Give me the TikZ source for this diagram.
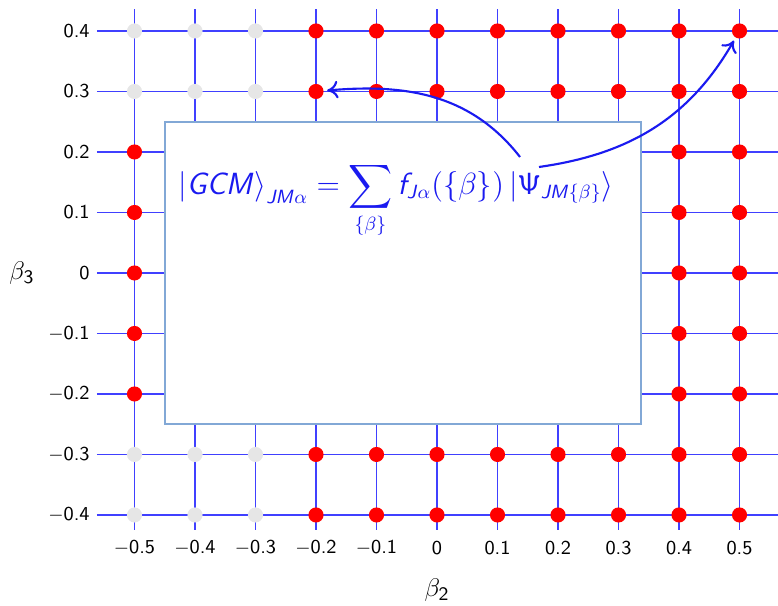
\documentclass[tikz,border=0pt]{standalone}
\usepackage{amsmath}
\usetikzlibrary{arrows.meta, calc}
\definecolor{GridBlue}{HTML}{4040FF}
\definecolor{BoxEdge}{HTML}{82A8D6}
\definecolor{DotOff}{HTML}{E6E6E6}
\definecolor{FormBlue}{HTML}{1A1AF0}
\DeclareMathAlphabet{\mathsfit}{OT1}{cmss}{m}{sl}
\tikzset{
  gridline/.style={draw=GridBlue, line width=0.8pt},
  dot/.style={circle, inner sep=0pt, minimum size=0.25cm, fill=red},
  dotoff/.style={dot, fill=DotOff},
  ticklabel/.style={font=\fontsize{9.3}{11}\selectfont\sffamily, inner sep=0pt},
  axislabel/.style={font=\fontsize{12.5}{15}\selectfont},
  panel/.style={draw=BoxEdge, fill=white, line width=0.6pt, inner sep=0pt},
  link/.style={-{To[length=1.8mm, width=2.9mm]}, draw=FormBlue, line width=1pt, shorten >=1.5pt},
}

\begin{document}
\begin{tikzpicture}
  \useasboundingbox (-7.223,-5.488) rectangle (5.636,4.512);
  % grid
  \foreach \x in {-5,...,5}
    \draw[gridline] (\x,-4.248) -- (\x,4.364);
  \foreach \y in {-4,...,4}
    \draw[gridline] (-5.62,\y) -- (5.636,\y);
  % mesh points (the ones under the panel are left out)
  \foreach \i in {0,...,10}{
    \foreach \j in {0,...,8}{
      \pgfmathtruncatemacro{\hid}{(\i>0)&&(\i<9)&&(\j>1)&&(\j<7)}
      \pgfmathtruncatemacro{\off}{(\i<3)&&((\j<2)||(\j>6))}
      \ifnum\hid=0
        \ifnum\off=1
          \node[dotoff] (d-\i-\j) at (\i-5,\j-4) {};
        \else
          \node[dot] (d-\i-\j) at (\i-5,\j-4) {};
        \fi
      \fi
    }
  }
  % tick labels
  \foreach \x/\t in {-5/$-$0.5, -4/$-$0.4, -3/$-$0.3, -2/$-$0.2, -1/$-$0.1,
                     0/0, 1/0.1, 2/0.2, 3/0.3, 4/0.4, 5/0.5}
    \node[ticklabel] (xt\x) at (\x,-4.545) {\t};
  \foreach \y/\t in {-4/$-$0.4, -3/$-$0.3, -2/$-$0.2, -1/$-$0.1,
                     0/0, 1/0.1, 2/0.2, 3/0.3, 4/0.4}
    \node[ticklabel, anchor=east] (yt\y) at (-5.735,\y) {\t};
  \node[axislabel] (b2) at (0,-5.24) {$\beta_{\mathsf{2}}$};
  \node[axislabel] (b3) at (-6.86,0) {$\beta_{\mathsf{3}}$};
  % panel with the GCM state
  \node[panel, minimum width=7.868cm, minimum height=4.992cm] (box) at (-0.562,0) {};
  \node[text=FormBlue, font=\fontsize{13.3}{16}\selectfont] (gcm) at (-0.68,1.2)
    {$\left|\mathsfit{GCM}\right\rangle_{\mathsfit{JM}\alpha}
      = \displaystyle\sum_{\{\beta\}} \mathsfit{f}_{\mathsfit{J}\alpha}(\{\beta\})\,
      |\mathsf{\Psi}_{\mathsfit{JM}\{\beta\}}\rangle$};
  \coordinate (from-a) at (1.372,1.917);
  \coordinate (from-b) at (1.686,1.752);
  \draw[link] (from-a) to[out=128, in=5] (d-3-7);
  \draw[link] (from-b) to[out=8, in=-120] (d-10-8);
\end{tikzpicture}
\end{document}
